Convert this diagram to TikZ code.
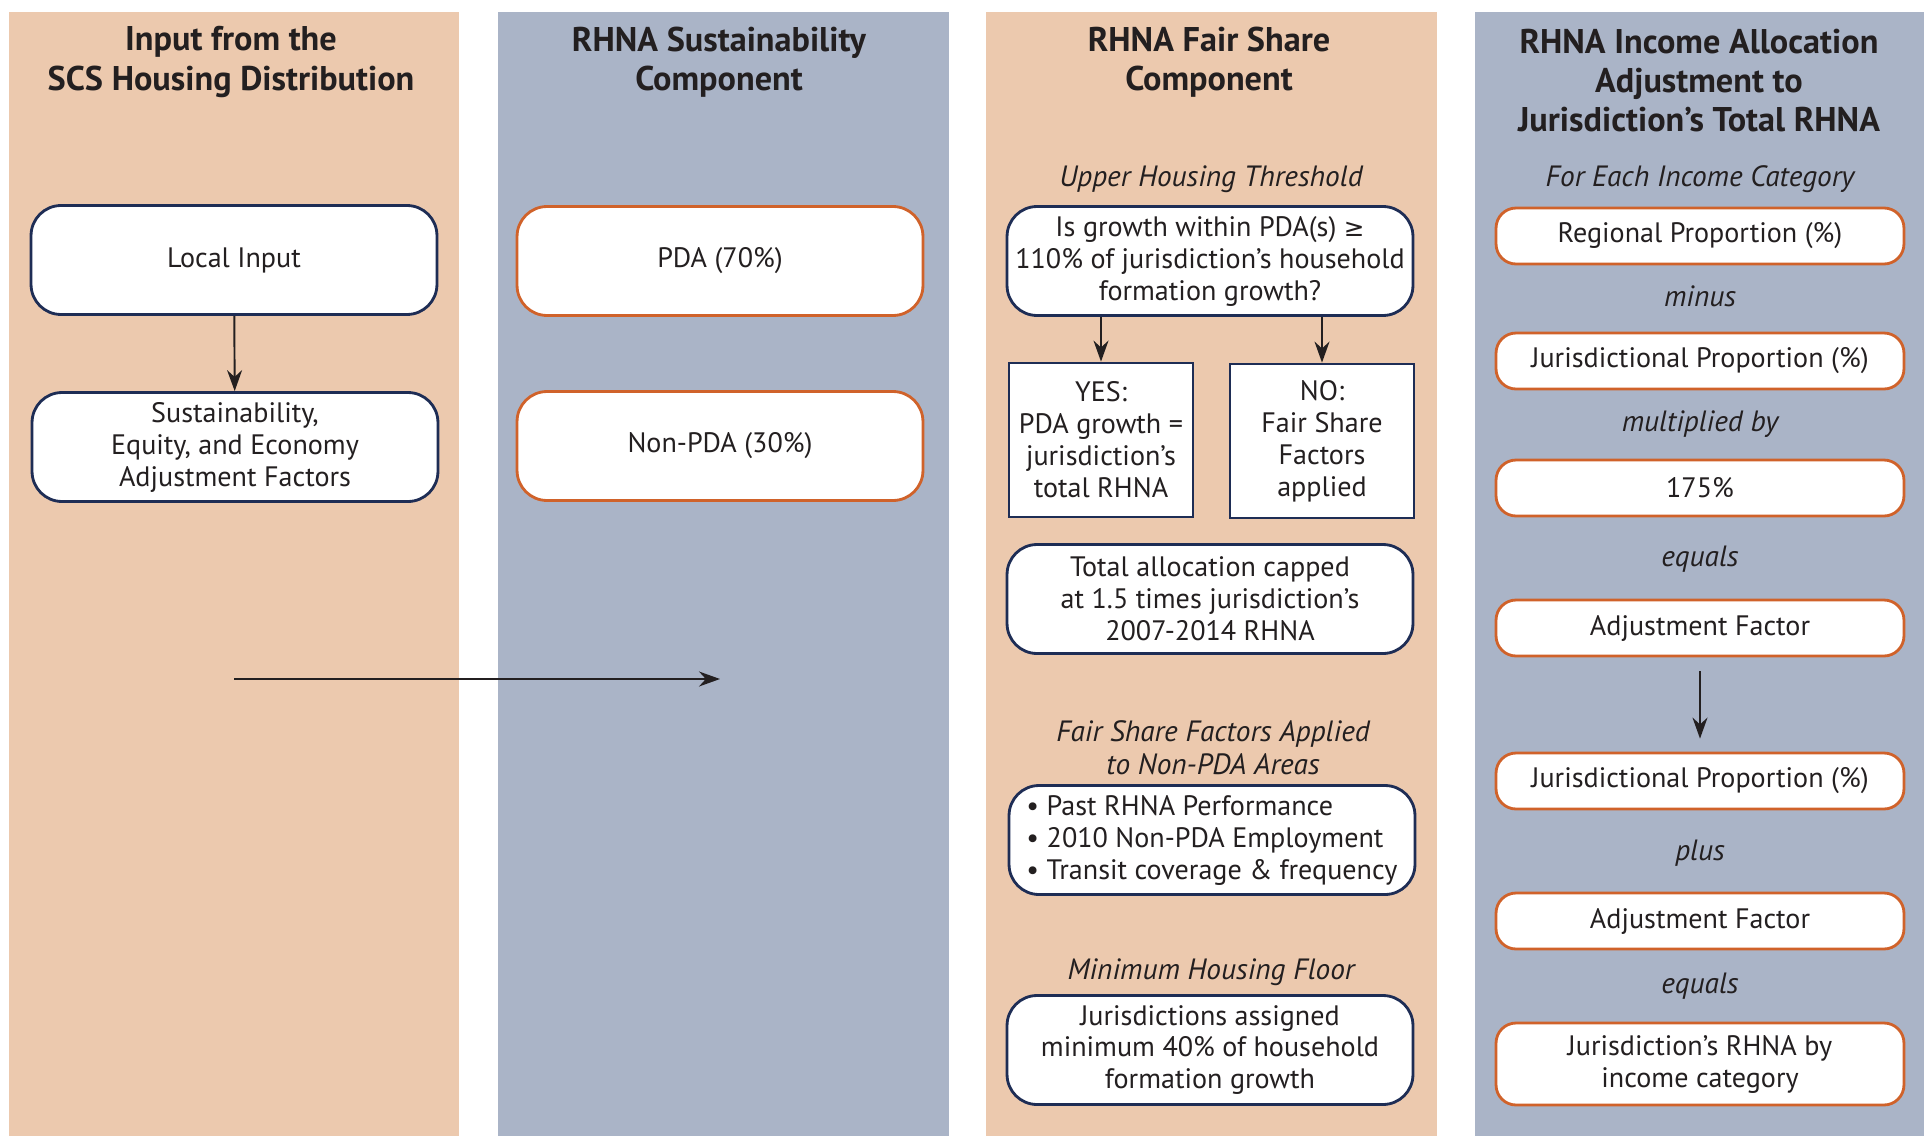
\documentclass[tikz,border=0pt]{standalone}
\usepackage{fontspec}
\setmainfont{PT Sans}
\newfontfamily\symbolfont{DejaVu Sans}
\usetikzlibrary{arrows.meta}

\definecolor{peach}{RGB}{236,201,174}
\definecolor{slate}{RGB}{170,180,199}
\definecolor{navy}{RGB}{30,45,85}
\definecolor{rust}{RGB}{208,98,42}
\definecolor{ink}{RGB}{35,31,32}

\begin{document}
\begin{tikzpicture}[x=0.02cm,y=-0.02cm,
  coltitle/.style={text=ink, font=\fontsize{19.5}{22.2}\selectfont\bfseries, align=center},
  subhead/.style={text=ink, font=\fontsize{16.7}{18.6}\selectfont\itshape, align=center},
  navybox/.style={draw=navy, line width=1.6pt, fill=white, text=ink, rounded corners=0.6cm,
    align=center, font=\fontsize{16}{18.2}\selectfont, minimum width=8.12cm, minimum height=2.18cm, inner sep=0pt},
  sharpbox/.style={draw=navy, line width=1.6pt, fill=white, text=ink,
    align=center, font=\fontsize{16}{18.2}\selectfont, minimum width=3.68cm, minimum height=3.08cm, inner sep=0pt},
  rustbox/.style={navybox, draw=rust},
  pillbox/.style={draw=rust, line width=1.6pt, fill=white, text=ink, rounded corners=0.4cm,
    align=center, font=\fontsize{16}{18.2}\selectfont, minimum width=8.16cm, minimum height=1.12cm, inner sep=0pt},
  arrow/.style={-{Stealth[length=0.42cm, width=0.3cm]}, line width=1.1pt, draw=ink}
]

% Background and columns
\fill[white] (0,0) rectangle (1931,1136);
\fill[peach] (9,12) rectangle (459,1136);
\fill[slate] (498,12) rectangle (949,1136);
\fill[peach] (986,12) rectangle (1437,1136);
\fill[slate] (1475,12) rectangle (1924,1136);

% Input from the SCS
\node[coltitle] (title1) at (231,62) {Input from the\\SCS Housing Distribution};
\node[navybox] (local) at (234,260) {Local Input};
\node[navybox] (factors) at (235,447) {Sustainability,\\Equity, and Economy\\Adjustment Factors};
\draw[arrow] (local) -- (factors);

% Sustainability component
\node[coltitle] (title2) at (719,62) {RHNA Sustainability\\Component};
\node[rustbox] (pda) at (720,261) {PDA (70\%)};
\node[rustbox] (nonpda) at (720,446) {Non-PDA (30\%)};
\coordinate (flowstart) at (234,679);
\coordinate (flowend) at (720,679);
\draw[arrow] (flowstart) -- (flowend);

% Fair share component
\node[coltitle] (title3) at (1209,62) {RHNA Fair Share\\Component};
\node[subhead] (upper) at (1211,179) {Upper Housing Threshold};
\node[navybox] (question) at (1210,261) {Is growth within PDA(s) {\symbolfont\fontsize{14}{18.2}\selectfont ≥}\\110\% of jurisdiction’s household\\formation growth?};
\node[sharpbox] (yes) at (1101,440) {YES:\\PDA growth =\\jurisdiction’s\\total RHNA};
\node[sharpbox] (no) at (1322,441) {NO:\\Fair Share\\Factors\\applied};
\draw[arrow] (question.south -| yes.north) -- (yes.north);
\draw[arrow] (question.south -| no.north) -- (no.north);
\node[navybox] (capped) at (1210,599) {Total allocation capped\\at 1.5 times jurisdiction’s\\2007-2014 RHNA};
\node[subhead] (fairsub) at (1213,748) {Fair Share Factors Applied\\to Non-PDA Areas};
\node[navybox, align=left] (factorlist) at (1212,840) {• Past RHNA Performance\\• 2010 Non-PDA Employment\\• Transit coverage \& frequency};
\node[subhead] (floorsub) at (1211,972) {Minimum Housing Floor};
\node[navybox] (floor) at (1210,1050) {Jurisdictions assigned\\minimum 40\% of household\\formation growth};

% Income allocation
\node[coltitle] (title4) at (1699,81) {RHNA Income Allocation\\Adjustment to\\Jurisdiction’s Total RHNA};
\node[subhead] (eachcat) at (1700,179) {For Each Income Category};
\node[pillbox] (regional) at (1700,236) {Regional Proportion (\%)};
\node[subhead] (minus) at (1700,296) {minus};
\node[pillbox] (jprop1) at (1700,361) {Jurisdictional Proportion (\%)};
\node[subhead] (times) at (1700,424) {multiplied by};
\node[pillbox] (pct) at (1700,488) {175\%};
\node[subhead] (eq1) at (1700,559) {equals};
\node[pillbox] (adj1) at (1700,628) {Adjustment Factor};
\node[pillbox] (jprop2) at (1700,781) {Jurisdictional Proportion (\%)};
\draw[arrow, shorten <=0.28cm, shorten >=0.26cm] (adj1) -- (jprop2);
\node[subhead] (plus) at (1700,853) {plus};
\node[pillbox] (adj2) at (1700,921) {Adjustment Factor};
\node[subhead] (eq2) at (1700,986) {equals};
\node[pillbox, minimum height=1.64cm] (result) at (1700,1064) {Jurisdiction’s RHNA by\\income category};

\end{tikzpicture}
\end{document}
